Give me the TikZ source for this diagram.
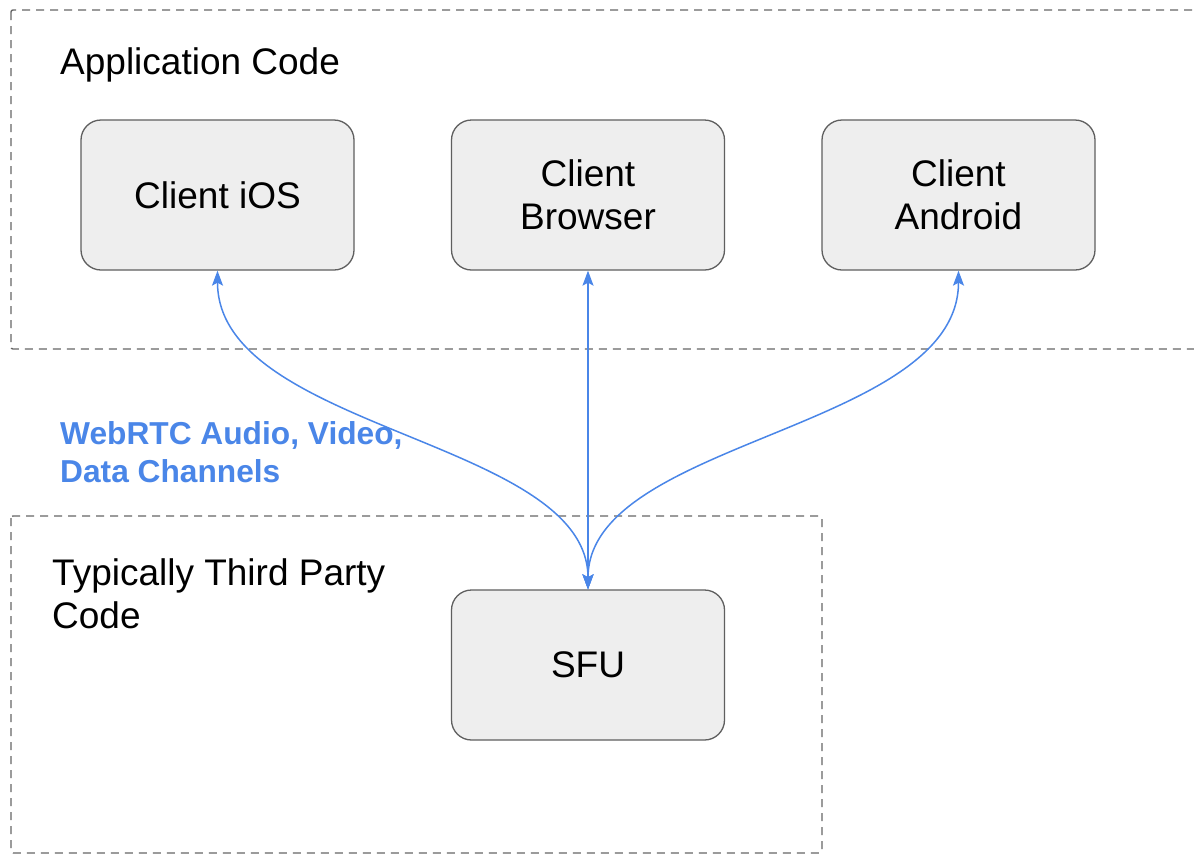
\documentclass[tikz,border=0pt]{standalone}
\usepackage{fontspec}
\setmainfont{Liberation Sans}
\usetikzlibrary{arrows.meta}
\definecolor{boxfill}{HTML}{EEEEEE}
\definecolor{boxline}{HTML}{5F5F5F}
\definecolor{dashline}{HTML}{666666}
\definecolor{linkblue}{HTML}{4A86E8}
\tikzset{
  client/.style={draw=boxline, fill=boxfill, line width=1.3pt, rounded corners=20pt,
    minimum width=273pt, minimum height=150pt, align=center, inner sep=0pt,
    font=\fontsize{37}{43}\selectfont},
  region/.style={draw=dashline, line width=1.4pt, dash pattern=on 8pt off 6pt, rounded corners=2pt},
  regionlabel/.style={anchor=west, align=left, inner sep=0pt, font=\fontsize{37}{43}\selectfont},
  link/.style={draw=linkblue, line width=1.5pt, {Stealth[length=15pt,width=11pt,inset=3pt]}-{Stealth[length=15pt,width=11pt,inset=3pt]}},
  linklabel/.style={anchor=west, align=left, inner sep=0pt, text=linkblue,
    font=\fontsize{31.7}{38}\selectfont\bfseries}
}
\begin{document}
\begin{tikzpicture}[x=1pt,y=-1pt]
\useasboundingbox (0,0) rectangle (1194,855);
\clip (0,0) rectangle (1194,855);
\fill[white] (0,0) rectangle (1194,855);
% regions
\draw[region] (11,10) rectangle (1210,349);
\draw[region] (11,516) rectangle (822,853);
\node[regionlabel] (applabel) at (60,65) {Application Code};
\node[regionlabel] (thirdlabel) at (52,594) {Typically Third Party\\Code};
% nodes
\node[client] (ios) at (217.5,195) {Client iOS};
\node[client] (browser) at (588,195) {Client\\Browser};
\node[client] (android) at (958.5,195) {Client\\Android};
\node[client] (sfu) at (588,665) {SFU};
% links
\draw[link] (ios.south) .. controls ++(0,160) and ++(0,-150) .. (sfu.north);
\draw[link] (browser.south) -- (sfu.north);
\draw[link] (android.south) .. controls ++(0,160) and ++(0,-150) .. (sfu.north);
\node[linklabel] (lbl) at (60,452) {WebRTC Audio, Video,\\Data Channels};
\end{tikzpicture}
\end{document}
